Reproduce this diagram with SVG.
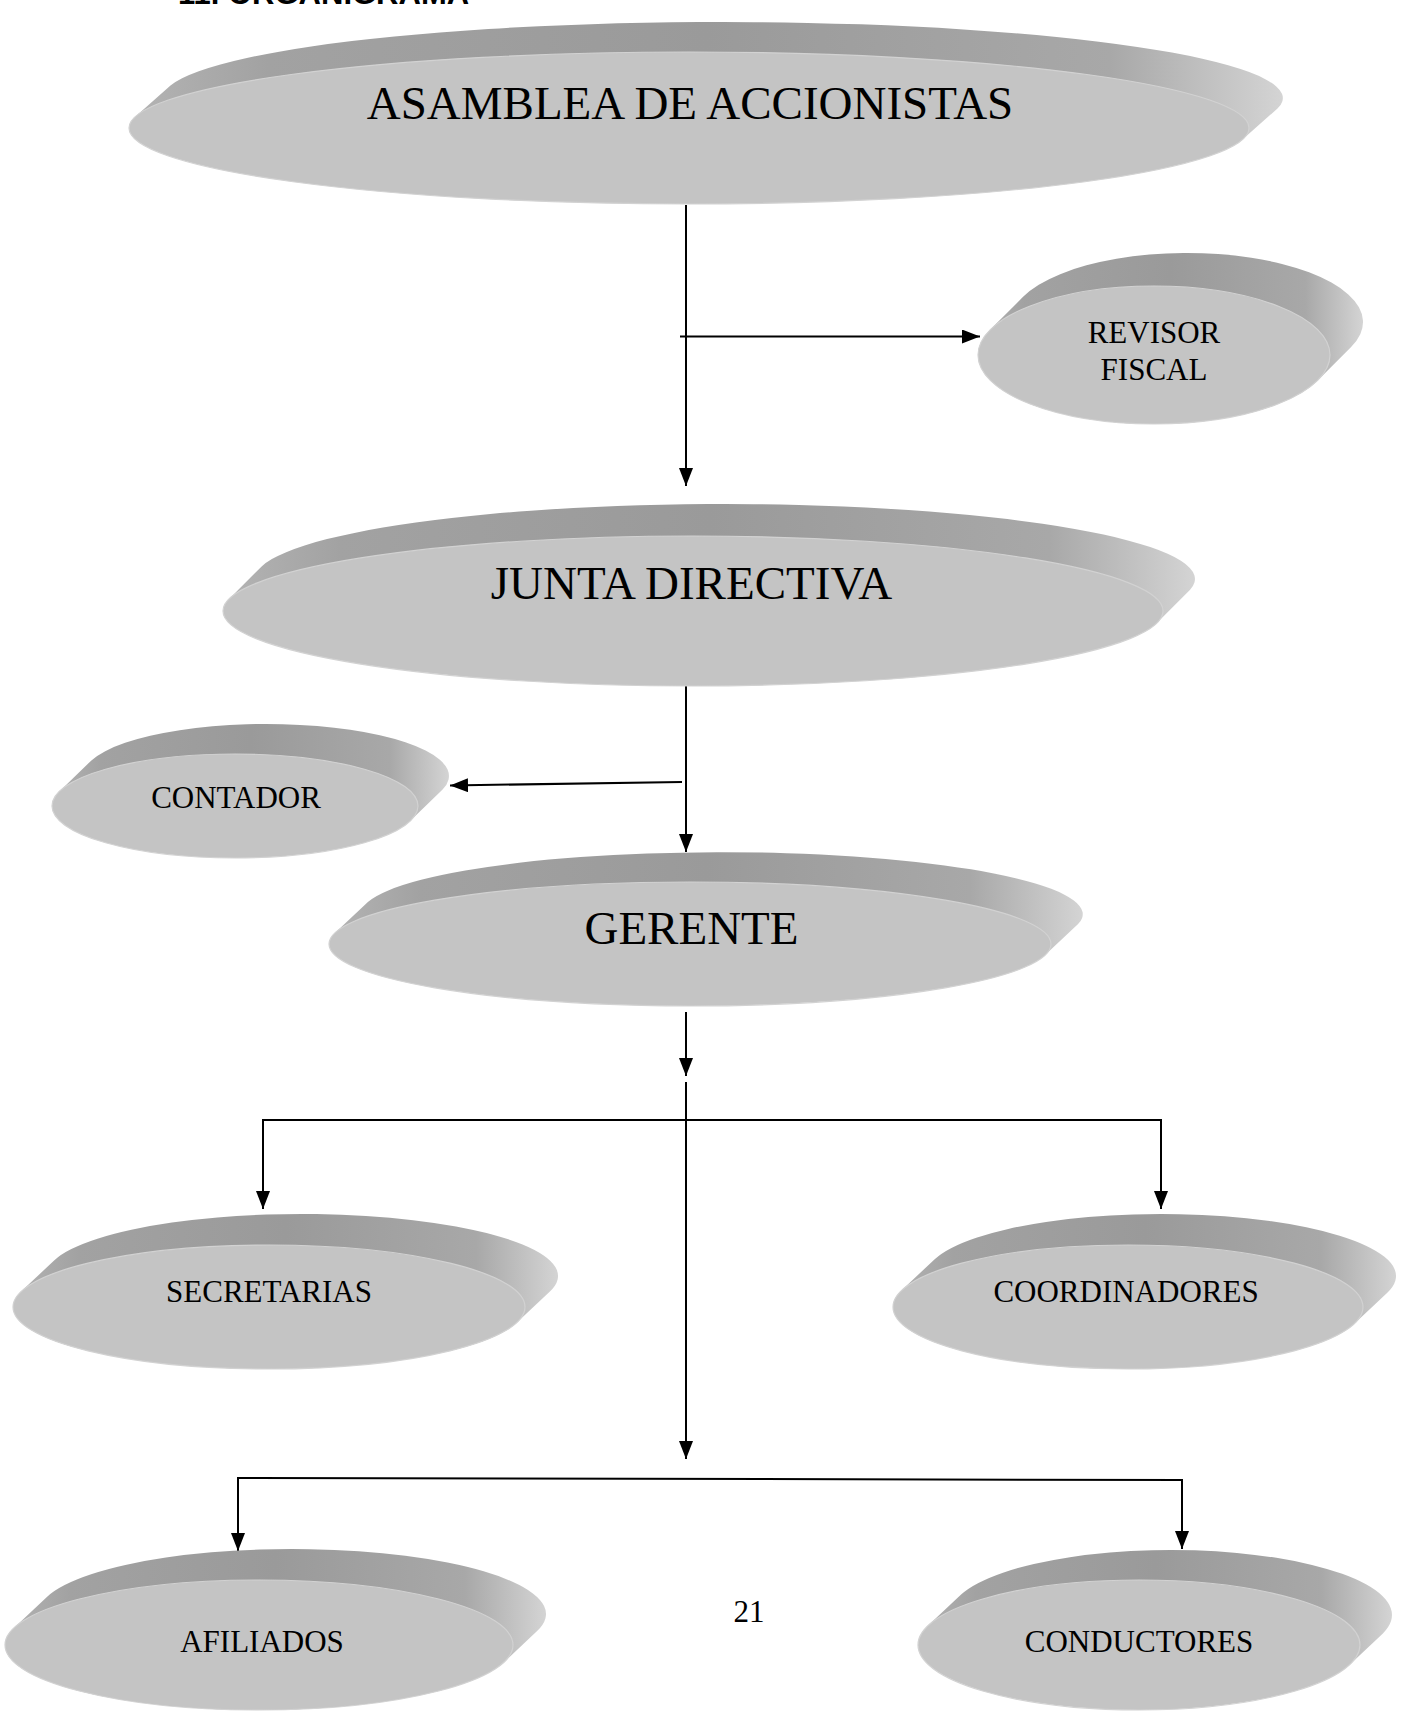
<svg xmlns="http://www.w3.org/2000/svg" width="1407" height="1713" viewBox="0 0 1407 1713">
<style>
.side{fill:url(#sideGrad);}
.face{fill:#c4c4c4;stroke:#d2d2d2;stroke-width:1.2;}
.big{font-family:"Liberation Serif","Times New Roman",serif;font-size:47px;fill:#000;text-anchor:middle;}
.small{font-family:"Liberation Serif","Times New Roman",serif;font-size:31px;fill:#000;text-anchor:middle;}
.con{fill:none;stroke:#000;stroke-width:2;}
.arr{marker-end:url(#ah);}
</style>
<defs>
<linearGradient id="sideGrad" x1="0" y1="0" x2="1" y2="0">
<stop offset="0" stop-color="#b4b4b4"/>
<stop offset="0.12" stop-color="#a2a2a2"/>
<stop offset="0.5" stop-color="#9a9a9a"/>
<stop offset="0.85" stop-color="#a8a8a8"/>
<stop offset="1" stop-color="#d4d4d4"/>
</linearGradient>
<marker id="ah" markerUnits="userSpaceOnUse" markerWidth="18" markerHeight="14" refX="18" refY="7" orient="auto">
<path d="M0,0 L18,7 L0,14 z" fill="#000"/>
</marker>
</defs>

<text x="178" y="4" style="font-family:'Liberation Sans',Arial,sans-serif;font-weight:bold;font-size:31px;fill:#000;">11. ORGANIGRAMA</text>

<g id="connectors">
<line class="con arr" x1="686" y1="205" x2="686" y2="486"/>
<line class="con arr" x1="680" y1="336.5" x2="980" y2="336.5"/>
<line class="con arr" x1="686" y1="684" x2="686" y2="852"/>
<line class="con arr" x1="682" y1="782" x2="450" y2="785.5"/>
<line class="con arr" x1="686" y1="1012" x2="686" y2="1076"/>
<line class="con arr" x1="686" y1="1082" x2="686" y2="1459"/>
<polyline class="con" points="263,1209 263,1120 1161,1120 1161,1209"/>
<line class="con arr" x1="263" y1="1120" x2="263" y2="1209"/>
<line class="con arr" x1="1161" y1="1120" x2="1161" y2="1209"/>
<line class="con" x1="238" y1="1478" x2="1182" y2="1480"/>
<line class="con arr" x1="238" y1="1477" x2="238" y2="1551"/>
<line class="con arr" x1="1182" y1="1479" x2="1182" y2="1549"/>
</g>

<g id="asamblea">
<path class="side" d="M1242.5,139.5 A560,76 0 0 1 135.5,116.5 L170.5,85.5 A560,76 0 0 1 1277.5,108.5 Z"/>
<ellipse class="face" cx="689" cy="128" rx="560" ry="76"/>
<text class="big" x="690" y="119">ASAMBLEA DE ACCIONISTAS</text>
</g>

<g id="revisor">
<path class="side" d="M1317.9,380.2 A176,69 0 0 1 990.1,329.8 L1023.1,296.8 A176,69 0 0 1 1350.9,347.2 Z"/>
<ellipse class="face" cx="1154" cy="355" rx="176" ry="69"/>
<text class="small" x="1154" y="343">REVISOR</text>
<text class="small" x="1154" y="380">FISCAL</text>
</g>

<g id="junta">
<path class="side" d="M1157.1,622.8 A470,75 0 0 1 228.9,599.2 L261.9,566.2 A470,75 0 0 1 1190.1,589.8 Z"/>
<ellipse class="face" cx="693" cy="611" rx="470" ry="75"/>
<text class="big" x="691.5" y="598.5">JUNTA DIRECTIVA</text>
</g>

<g id="contador">
<path class="side" d="M410.6,820.6 A183,52 0 0 1 59.4,791.4 L91.4,760.4 A183,52 0 0 1 442.6,789.6 Z"/>
<ellipse class="face" cx="235" cy="806" rx="183" ry="52"/>
<text class="small" x="236" y="808">CONTADOR</text>
</g>

<g id="gerente">
<path class="side" d="M1045.1,955.1 A361,62 0 0 1 334.9,932.9 L367.9,901.9 A361,62 0 0 1 1078.1,924.1 Z"/>
<ellipse class="face" cx="690" cy="944" rx="361" ry="62"/>
<text class="big" x="691.5" y="944">GERENTE</text>
</g>

<g id="secretarias">
<path class="side" d="M516.9,1322.5 A256,62 0 0 1 21.1,1291.5 L54.1,1260.5 A256,62 0 0 1 549.9,1291.5 Z"/>
<ellipse class="face" cx="269" cy="1307" rx="256" ry="62"/>
<text class="small" x="269" y="1302">SECRETARIAS</text>
</g>

<g id="coordinadores">
<path class="side" d="M1354.3,1323.8 A235,62 0 0 1 901.7,1290.2 L934.7,1259.2 A235,62 0 0 1 1387.3,1292.8 Z"/>
<ellipse class="face" cx="1128" cy="1307" rx="235" ry="62"/>
<text class="small" x="1126" y="1302">COORDINADORES</text>
</g>

<g id="afiliados">
<path class="side" d="M504.1,1662.1 A254,65 0 0 1 13.9,1627.9 L46.9,1596.9 A254,65 0 0 1 537.1,1631.1 Z"/>
<ellipse class="face" cx="259" cy="1645" rx="254" ry="65"/>
<text class="small" x="262" y="1652">AFILIADOS</text>
</g>

<g id="conductores">
<path class="side" d="M1349.9,1664.4 A221,65 0 0 1 928.1,1625.6 L961.1,1594.6 A221,65 0 0 1 1382.9,1633.4 Z"/>
<ellipse class="face" cx="1139" cy="1645" rx="221" ry="65"/>
<text class="small" x="1139" y="1652">CONDUCTORES</text>
</g>

<text class="small" x="749" y="1622">21</text>
</svg>
